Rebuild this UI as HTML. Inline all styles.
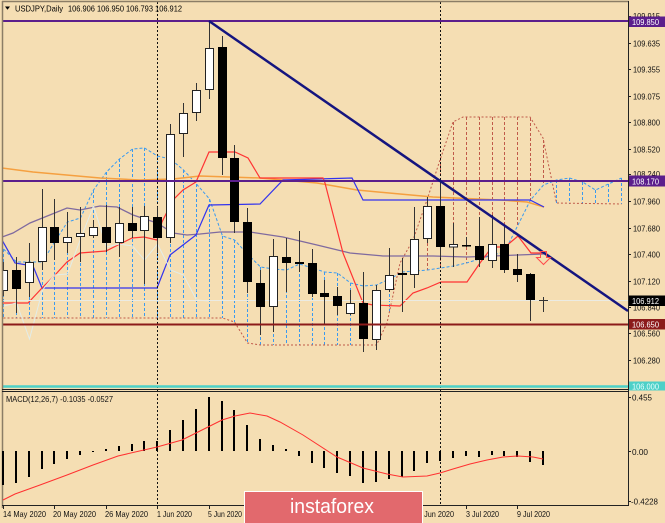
<!DOCTYPE html>
<html><head><meta charset="utf-8"><style>
html,body{margin:0;padding:0;background:#f5deb3;}
body{width:665px;height:523px;overflow:hidden;}
svg{display:block;font-family:"Liberation Sans",sans-serif;}
</style></head><body>
<svg width="665" height="523" viewBox="0 0 665 523" xmlns="http://www.w3.org/2000/svg">
<rect x="0" y="0" width="665" height="523" fill="#f5deb3"/>
<defs><clipPath id="mc"><rect x="3" y="2" width="625" height="387"/></clipPath></defs>

<g clip-path="url(#mc)">
<!-- cloud hatch blue -->
<g stroke="#3a9af0" stroke-width="1" stroke-dasharray="3,2">
<line x1="3.5" y1="249" x2="3.5" y2="318"/><line x1="16.5" y1="262" x2="16.5" y2="318"/><line x1="29.5" y1="262" x2="29.5" y2="318"/><line x1="42.5" y1="262" x2="42.5" y2="318"/><line x1="54.5" y1="242" x2="54.5" y2="318"/><line x1="67.5" y1="222" x2="67.5" y2="318"/><line x1="80.5" y1="218" x2="80.5" y2="318"/><line x1="93.5" y1="190" x2="93.5" y2="318"/><line x1="106.5" y1="172" x2="106.5" y2="318"/><line x1="119.5" y1="159" x2="119.5" y2="318"/><line x1="132.5" y1="149" x2="132.5" y2="318"/><line x1="144.5" y1="148" x2="144.5" y2="318"/><line x1="157.5" y1="156" x2="157.5" y2="318"/><line x1="170.5" y1="159" x2="170.5" y2="318"/><line x1="183.5" y1="170" x2="183.5" y2="318"/><line x1="196.5" y1="184" x2="196.5" y2="318"/><line x1="209.5" y1="199" x2="209.5" y2="318"/><line x1="222.5" y1="236" x2="222.5" y2="318"/><line x1="234.5" y1="240" x2="234.5" y2="322"/><line x1="247.5" y1="254" x2="247.5" y2="343"/><line x1="260.5" y1="267" x2="260.5" y2="345"/><line x1="273.5" y1="269" x2="273.5" y2="345"/><line x1="286.5" y1="270" x2="286.5" y2="345"/><line x1="299.5" y1="264" x2="299.5" y2="345"/><line x1="312.5" y1="268" x2="312.5" y2="345"/><line x1="324.5" y1="272" x2="324.5" y2="345"/><line x1="337.5" y1="273" x2="337.5" y2="345"/><line x1="350.5" y1="283" x2="350.5" y2="345"/><line x1="363.5" y1="286" x2="363.5" y2="345"/><line x1="376.5" y1="285" x2="376.5" y2="345"/><line x1="389.5" y1="279" x2="389.5" y2="313"/>
<line x1="556.5" y1="180" x2="556.5" y2="203"/><line x1="569.5" y1="178" x2="569.5" y2="204"/><line x1="582.5" y1="182" x2="582.5" y2="204"/><line x1="595.5" y1="190" x2="595.5" y2="204"/><line x1="608.5" y1="184" x2="608.5" y2="204"/><line x1="621.5" y1="178" x2="621.5" y2="204"/>
</g>
<!-- cloud hatch brown -->
<g stroke="#c05a4a" stroke-width="1" stroke-dasharray="3,2">
<line x1="402.5" y1="259" x2="402.5" y2="272"/><line x1="414.5" y1="235" x2="414.5" y2="271"/><line x1="427.5" y1="198" x2="427.5" y2="270"/><line x1="440.5" y1="158" x2="440.5" y2="268"/><line x1="453.5" y1="122" x2="453.5" y2="266"/><line x1="466.5" y1="117" x2="466.5" y2="263"/><line x1="479.5" y1="117" x2="479.5" y2="259"/><line x1="492.5" y1="117" x2="492.5" y2="255"/><line x1="504.5" y1="117" x2="504.5" y2="252"/><line x1="517.5" y1="117" x2="517.5" y2="226"/><line x1="530.5" y1="118" x2="530.5" y2="200"/><line x1="543.5" y1="140" x2="543.5" y2="185"/>
</g>
<!-- span A / B -->
<polyline fill="none" stroke="#3a9af0" stroke-width="1" stroke-dasharray="3,2" points="3.5,249 16.5,262 29.5,262 42.5,262 54.5,242 67.5,222 80.5,218 93.5,190 106.5,172 119.5,159 132.5,149 144.5,148 157.5,156 170.5,159 183.5,170 196.5,184 209.5,199 222.5,236 234.5,240 247.5,254 260.5,267 273.5,269 286.5,270 299.5,264 312.5,268 324.5,272 337.5,273 350.5,283 363.5,286 376.5,285 389.5,279 402.5,272 414.5,271 427.5,270 440.5,268 453.5,266 466.5,263 479.5,259 492.5,255 504.5,252 517.5,226 530.5,200 543.5,185 556.5,180 569.5,178 582.5,182 595.5,190 608.5,184 621.5,178"/>
<polyline fill="none" stroke="#c05a4a" stroke-width="1" stroke-dasharray="2,2" points="3.5,318 222.5,318 234.5,322 247.5,343 260.5,345 376.5,345 387,323 400,263 413,240 427,200 440,160 453,122 463,117 530,117 543,138 556.5,203 621.5,204"/>
<!-- MAs -->
<polyline fill="none" stroke="#f5a040" stroke-width="1.5" points="2,168 33,172 100,178 140,180 173,179 200,176 260,178 317,183 357,190 400,194 433,197 500,200 527,202 544,207"/>
<polyline fill="none" stroke="#7f6a9f" stroke-width="1.3" points="2,237 13,233 30,223 67,208 80,210 100,206 117,207 133,215 157,223 173,233 187,235 200,234 220,232 250,232 283,237 317,245 350,253 383,256 433,256 467,257 544,254"/>
<!-- Kijun / Tenkan -->
<polyline fill="none" stroke="#3333ee" stroke-width="1.2" points="2,240 15,263 33,266 42,288 157,288 170,255 183,245 196,235 209,205 260,204 283,180 352,178 363,200 530,200 544,207"/>
<polyline fill="none" stroke="#ff3333" stroke-width="1.2" points="2,303 28,303 42,288 55,275 67,262 80,253 93,252 106,251 118,245 132,238 144,237 157,240 162,222 173,200 183,190 196,182 209,152 235,152 248,158 260,178 323,178 325,183 343,253 363,303 373,305 400,306 413,293 427,288 441,282 467,282 480,263 492,247 505,247 518,236 531,253 544,253"/>
<!-- Chikou -->
<polyline fill="none" stroke="#e2ece8" stroke-width="1" points="3.5,306 16.5,303 29.5,339 42.5,290 54.5,275 67.5,274 80.5,239 93.5,206 106.5,247 119.5,244 132.5,246 144.5,260 157.5,244 170.5,270 183.5,275 196.5,300 209.5,301"/>
<!-- bid line -->
<line x1="3" y1="300.5" x2="628" y2="300.5" stroke="#ebebe3" stroke-width="1"/>
</g>

<!-- period separators -->
<g stroke="#111" stroke-width="1" stroke-dasharray="2,2">
<line x1="157.5" y1="2" x2="157.5" y2="506"/>
<line x1="440.5" y1="2" x2="440.5" y2="506"/>
</g>

<g clip-path="url(#mc)">
<!-- candles -->
<g stroke="#333" stroke-width="1">
<line x1="3.5" y1="262" x2="3.5" y2="296"/><line x1="16.5" y1="257" x2="16.5" y2="313"/><line x1="29.5" y1="243" x2="29.5" y2="297"/><line x1="42.5" y1="189" x2="42.5" y2="270"/><line x1="54.5" y1="199" x2="54.5" y2="260"/><line x1="67.5" y1="212" x2="67.5" y2="253"/><line x1="80.5" y1="207" x2="80.5" y2="262"/><line x1="93.5" y1="220" x2="93.5" y2="238"/><line x1="106.5" y1="205" x2="106.5" y2="252"/><line x1="119.5" y1="207" x2="119.5" y2="257"/><line x1="132.5" y1="207" x2="132.5" y2="238"/><line x1="144.5" y1="206" x2="144.5" y2="284"/><line x1="157.5" y1="207" x2="157.5" y2="253"/><line x1="170.5" y1="124" x2="170.5" y2="243"/><line x1="183.5" y1="103" x2="183.5" y2="157"/><line x1="196.5" y1="83" x2="196.5" y2="121"/><line x1="209.5" y1="22" x2="209.5" y2="99"/><line x1="222.5" y1="36" x2="222.5" y2="175"/><line x1="234.5" y1="145" x2="234.5" y2="233"/><line x1="247.5" y1="208" x2="247.5" y2="293"/><line x1="260.5" y1="270" x2="260.5" y2="335"/><line x1="273.5" y1="239" x2="273.5" y2="332"/><line x1="286.5" y1="238" x2="286.5" y2="292"/><line x1="299.5" y1="231" x2="299.5" y2="272"/><line x1="312.5" y1="249" x2="312.5" y2="297"/><line x1="324.5" y1="280" x2="324.5" y2="325"/><line x1="337.5" y1="287" x2="337.5" y2="315"/><line x1="350.5" y1="290" x2="350.5" y2="315"/><line x1="363.5" y1="272" x2="363.5" y2="352"/><line x1="376.5" y1="285" x2="376.5" y2="350"/><line x1="389.5" y1="248" x2="389.5" y2="292"/><line x1="402.5" y1="258" x2="402.5" y2="312"/><line x1="414.5" y1="207" x2="414.5" y2="288"/><line x1="427.5" y1="197" x2="427.5" y2="243"/><line x1="440.5" y1="180" x2="440.5" y2="258"/><line x1="453.5" y1="223" x2="453.5" y2="267"/><line x1="466.5" y1="237" x2="466.5" y2="247"/><line x1="479.5" y1="217" x2="479.5" y2="267"/><line x1="492.5" y1="215" x2="492.5" y2="268"/><line x1="504.5" y1="225" x2="504.5" y2="273"/><line x1="517.5" y1="254" x2="517.5" y2="282"/><line x1="530.5" y1="273" x2="530.5" y2="321"/><line x1="543.5" y1="297" x2="543.5" y2="312"/>
<line x1="539" y1="300.5" x2="548" y2="300.5"/>
</g>
<!-- black bodies -->
<g fill="#000">
<rect x="12" y="270" width="9" height="19"/><rect x="50" y="227" width="9" height="16"/><rect x="102" y="227" width="9" height="16"/><rect x="128" y="223" width="9" height="8"/><rect x="153" y="217" width="9" height="21"/><rect x="218" y="47" width="9" height="111"/><rect x="230" y="158" width="9" height="64"/><rect x="243" y="222" width="9" height="60"/><rect x="256" y="283" width="9" height="24"/><rect x="282" y="257" width="9" height="6"/><rect x="295" y="262" width="9" height="2"/><rect x="308" y="263" width="9" height="31"/><rect x="320" y="293" width="9" height="4"/><rect x="333" y="296" width="9" height="10"/><rect x="359" y="303" width="9" height="36"/><rect x="398" y="273" width="9" height="2"/><rect x="436" y="206" width="9" height="41"/><rect x="462" y="245" width="9" height="1.5"/><rect x="475" y="246" width="9" height="14"/><rect x="500" y="244" width="9" height="26"/><rect x="513" y="269" width="9" height="6"/><rect x="526" y="274" width="9" height="26"/>
</g>
<!-- white bodies -->
<g fill="#fff" stroke="#222" stroke-width="1">
<rect x="-0.5" y="270.5" width="8" height="20"/><rect x="25.5" y="262.5" width="8" height="20"/><rect x="38.5" y="227.5" width="8" height="34"/><rect x="63.5" y="237.5" width="8" height="5"/><rect x="76.5" y="233.5" width="8" height="3"/><rect x="89.5" y="227.5" width="8" height="8"/><rect x="115.5" y="223.5" width="8" height="19"/><rect x="140.5" y="216.5" width="8" height="14"/><rect x="166.5" y="134.5" width="8" height="103"/><rect x="179.5" y="113.5" width="8" height="20"/><rect x="192.5" y="90.5" width="8" height="22"/><rect x="205.5" y="48.5" width="8" height="41"/><rect x="269.5" y="256.5" width="8" height="50"/><rect x="346.5" y="303.5" width="8" height="10"/><rect x="372.5" y="290.5" width="8" height="49"/><rect x="385.5" y="275.5" width="8" height="14"/><rect x="410.5" y="239.5" width="8" height="35"/><rect x="423.5" y="206.5" width="8" height="32"/><rect x="449.5" y="244.5" width="8" height="2.5"/><rect x="488.5" y="244.5" width="8" height="16"/>
</g>
<!-- horizontal objects -->
<line x1="3" y1="21" x2="628" y2="21" stroke="#5b1e8c" stroke-width="2"/>
<line x1="3" y1="181" x2="628" y2="181" stroke="#5b1e8c" stroke-width="2"/>
<line x1="3" y1="324.5" x2="628" y2="324.5" stroke="#8b1a1a" stroke-width="2"/>
<line x1="3" y1="386.5" x2="628" y2="386.5" stroke="#4dd0c8" stroke-width="2.5"/>
<!-- trendline -->
<line x1="209" y1="21" x2="628" y2="311" stroke="#15157f" stroke-width="2.5"/>
<!-- arrow -->
<polygon points="540.5,251.5 546.5,251.5 546.5,257.5 550.5,257.5 543.5,264.5 536.5,257.5 540.5,257.5" fill="none" stroke="#ff4a4a" stroke-width="1"/>
</g>

<!-- frames -->
<line x1="2.5" y1="1" x2="2.5" y2="508" stroke="#8b7d66" stroke-width="1.5"/>
<line x1="2" y1="1.5" x2="629" y2="1.5" stroke="#8b7d66" stroke-width="1.5"/>
<line x1="628.5" y1="1" x2="628.5" y2="506" stroke="#222" stroke-width="1"/>
<line x1="2" y1="389.5" x2="629" y2="389.5" stroke="#222" stroke-width="1"/>
<line x1="2" y1="391.5" x2="629" y2="391.5" stroke="#222" stroke-width="1"/>
<line x1="2" y1="505.5" x2="629" y2="505.5" stroke="#222" stroke-width="1"/>

<!-- title -->
<polygon points="5,6.5 10,6.5 7.5,9.8" fill="#000"/>
<text x="15" y="11.5" font-size="8.5" fill="#000" textLength="48" lengthAdjust="spacingAndGlyphs">USDJPY,Daily</text>
<text x="68" y="11.5" font-size="8.5" fill="#000" textLength="114" lengthAdjust="spacingAndGlyphs">106.906 106.950 106.793 106.912</text>

<!-- price axis ticks -->
<g stroke="#222" stroke-width="1">
<line x1="628" y1="16.5" x2="631" y2="16.5"/><line x1="628" y1="43.5" x2="631" y2="43.5"/><line x1="628" y1="69.5" x2="631" y2="69.5"/><line x1="628" y1="96.5" x2="631" y2="96.5"/><line x1="628" y1="122.5" x2="631" y2="122.5"/><line x1="628" y1="149.5" x2="631" y2="149.5"/><line x1="628" y1="174.5" x2="631" y2="174.5"/><line x1="628" y1="201.5" x2="631" y2="201.5"/><line x1="628" y1="228.5" x2="631" y2="228.5"/><line x1="628" y1="254.5" x2="631" y2="254.5"/><line x1="628" y1="281.5" x2="631" y2="281.5"/><line x1="628" y1="307.5" x2="631" y2="307.5"/><line x1="628" y1="333.5" x2="631" y2="333.5"/><line x1="628" y1="360.5" x2="631" y2="360.5"/>
<line x1="628" y1="397.5" x2="631" y2="397.5"/><line x1="628" y1="451.5" x2="631" y2="451.5"/><line x1="628" y1="501.5" x2="631" y2="501.5"/>
</g>
<g font-size="8.5" fill="#111">
<text x="633" y="19" textLength="27" lengthAdjust="spacingAndGlyphs">109.915</text>
<text x="633" y="46.5" textLength="27" lengthAdjust="spacingAndGlyphs">109.635</text>
<text x="633" y="72.5" textLength="27" lengthAdjust="spacingAndGlyphs">109.355</text>
<text x="633" y="99.5" textLength="27" lengthAdjust="spacingAndGlyphs">109.075</text>
<text x="633" y="125.5" textLength="27" lengthAdjust="spacingAndGlyphs">108.800</text>
<text x="633" y="152.5" textLength="27" lengthAdjust="spacingAndGlyphs">108.520</text>
<text x="633" y="177" textLength="27" lengthAdjust="spacingAndGlyphs">108.240</text>
<text x="633" y="204.5" textLength="27" lengthAdjust="spacingAndGlyphs">107.960</text>
<text x="633" y="231.5" textLength="27" lengthAdjust="spacingAndGlyphs">107.680</text>
<text x="633" y="257.5" textLength="27" lengthAdjust="spacingAndGlyphs">107.400</text>
<text x="633" y="284.5" textLength="27" lengthAdjust="spacingAndGlyphs">107.120</text>
<text x="633" y="310.5" textLength="27" lengthAdjust="spacingAndGlyphs">106.840</text>
<text x="633" y="336.5" textLength="27" lengthAdjust="spacingAndGlyphs">106.560</text>
<text x="633" y="363.5" textLength="27" lengthAdjust="spacingAndGlyphs">106.280</text>
<text x="632" y="400.5" textLength="20" lengthAdjust="spacingAndGlyphs">0.455</text>
<text x="632" y="455" textLength="16" lengthAdjust="spacingAndGlyphs">0.00</text>
<text x="631" y="504.5" textLength="27" lengthAdjust="spacingAndGlyphs">-0.4228</text>
</g>
<!-- price label boxes -->
<rect x="629" y="16.5" width="36" height="10.5" fill="#5b1e8c"/>
<rect x="629" y="175.5" width="36" height="11" fill="#5b1e8c"/>
<rect x="629" y="295.5" width="36" height="10.5" fill="#000"/>
<rect x="629" y="319" width="36" height="10.5" fill="#8b1a1a"/>
<rect x="629" y="381.5" width="36" height="9" fill="#4dd0c8"/>
<g font-size="8.5" fill="#fff">
<text x="632" y="25" textLength="27" lengthAdjust="spacingAndGlyphs">109.850</text>
<text x="632" y="184.5" textLength="27" lengthAdjust="spacingAndGlyphs">108.170</text>
<text x="632" y="304" textLength="27" lengthAdjust="spacingAndGlyphs">106.912</text>
<text x="632" y="327.5" textLength="27" lengthAdjust="spacingAndGlyphs">106.650</text>
<text x="632" y="389.5" textLength="27" lengthAdjust="spacingAndGlyphs" fill="#e8fffd">106.000</text>
</g>

<!-- MACD -->
<text x="6" y="402" font-size="8.5" fill="#111" textLength="107" lengthAdjust="spacingAndGlyphs">MACD(12,26,7) -0.1035 -0.0527</text>
<g fill="#000">
<rect x="2" y="451" width="2" height="34"/><rect x="15" y="451" width="2" height="32"/><rect x="28" y="451" width="2" height="26"/><rect x="41" y="451" width="2" height="18"/><rect x="53" y="451" width="2" height="13"/><rect x="66" y="451" width="2" height="8"/><rect x="79" y="451" width="2" height="4"/><rect x="92" y="451" width="2" height="1"/><rect x="105" y="449" width="2" height="2"/><rect x="118" y="446" width="2" height="5"/><rect x="131" y="444" width="2" height="7"/><rect x="143" y="441" width="2" height="10"/><rect x="156" y="441" width="2" height="10"/><rect x="169" y="430" width="2" height="21"/><rect x="182" y="420" width="2" height="31"/><rect x="195" y="409" width="2" height="42"/><rect x="208" y="397" width="2" height="54"/><rect x="221" y="401" width="2" height="50"/><rect x="233" y="410" width="2" height="41"/><rect x="246" y="425" width="2" height="26"/><rect x="259" y="439" width="2" height="12"/><rect x="272" y="445" width="2" height="6"/><rect x="285" y="449" width="2" height="2"/><rect x="298" y="451" width="2" height="5"/><rect x="311" y="451" width="2" height="12"/><rect x="323" y="451" width="2" height="17"/><rect x="336" y="451" width="2" height="22"/><rect x="349" y="451" width="2" height="25"/><rect x="362" y="451" width="2" height="32"/><rect x="375" y="451" width="2" height="31"/><rect x="388" y="451" width="2" height="28"/><rect x="401" y="451" width="2" height="26"/><rect x="413" y="451" width="2" height="20"/><rect x="426" y="451" width="2" height="12"/><rect x="439" y="451" width="2" height="10"/><rect x="452" y="451" width="2" height="7"/><rect x="465" y="451" width="2" height="5"/><rect x="478" y="451" width="2" height="6"/><rect x="491" y="451" width="2" height="4"/><rect x="503" y="451" width="2" height="5"/><rect x="516" y="451" width="2" height="6"/><rect x="529" y="451" width="2" height="11"/><rect x="542" y="451" width="2" height="14"/>
</g>
<polyline fill="none" stroke="#ff3030" stroke-width="1" points="3,500 15,494 40,485 67,475 93,465 118,456 157,447 182,440 208,427 222,420 235,416 250,413 267,416 280,422 303,435 337,457 363,468 387,474 403,477 427,476 440,473 453,469 470,464 487,460 503,457 518,456 533,457 543,459"/>

<!-- date axis -->
<g stroke="#222" stroke-width="1">
<line x1="3.5" y1="506" x2="3.5" y2="509"/><line x1="54.5" y1="506" x2="54.5" y2="509"/><line x1="106.5" y1="506" x2="106.5" y2="509"/><line x1="157.5" y1="506" x2="157.5" y2="509"/><line x1="209.5" y1="506" x2="209.5" y2="509"/><line x1="466.5" y1="506" x2="466.5" y2="509"/><line x1="517.5" y1="506" x2="517.5" y2="509"/><line x1="414.5" y1="506" x2="414.5" y2="509"/>
</g>
<g font-size="8.5" fill="#111">
<text x="3" y="517" textLength="43" lengthAdjust="spacingAndGlyphs">14 May 2020</text>
<text x="53" y="517" textLength="43" lengthAdjust="spacingAndGlyphs">20 May 2020</text>
<text x="105" y="517" textLength="43" lengthAdjust="spacingAndGlyphs">26 May 2020</text>
<text x="157" y="517" textLength="35" lengthAdjust="spacingAndGlyphs">1 Jun 2020</text>
<text x="208" y="517" textLength="34" lengthAdjust="spacingAndGlyphs">5 Jun 2020</text>
<text x="260" y="517" textLength="40" lengthAdjust="spacingAndGlyphs">11 Jun 2020</text>
<text x="311" y="517" textLength="41" lengthAdjust="spacingAndGlyphs">17 Jun 2020</text>
<text x="363" y="517" textLength="41" lengthAdjust="spacingAndGlyphs">23 Jun 2020</text>
<text x="414" y="517" textLength="40" lengthAdjust="spacingAndGlyphs">29 Jun 2020</text>
<text x="466" y="517" textLength="33" lengthAdjust="spacingAndGlyphs">3 Jul 2020</text>
<text x="517" y="517" textLength="33" lengthAdjust="spacingAndGlyphs">9 Jul 2020</text>
</g>

<!-- logo -->
<rect x="244.5" y="491.5" width="178" height="33" fill="#e2696d" stroke="#ffffff" stroke-width="1"/>
<text x="290" y="513" font-size="20" fill="#ffffff" textLength="84" lengthAdjust="spacingAndGlyphs">instaforex</text>
</svg>
</body></html>
